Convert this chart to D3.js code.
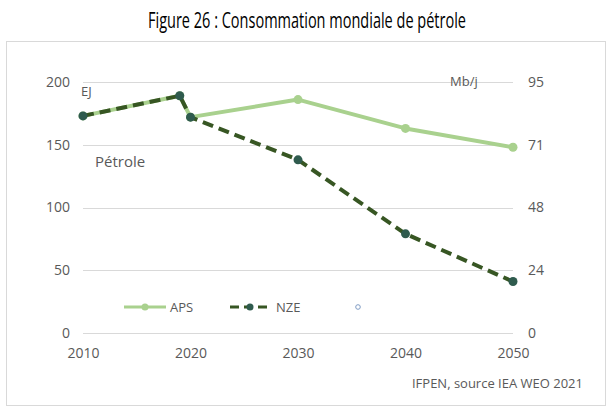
<!DOCTYPE html>
<html><head><meta charset="utf-8">
<script src="https://cdn.jsdelivr.net/npm/d3@7"></script>
<style>body{margin:0;background:#fff}svg{display:block}text{font-family:"Open Sans",sans-serif}</style>
</head><body><svg id="c" width="615" height="412"></svg>
<script>
const years = [2010, 2019, 2020, 2030, 2040, 2050];
const aps = [173, 189, 172, 186, 163, 148];
const nze = [173, 189, 172, 138, 79, 41];
const xTicks = [2010, 2020, 2030, 2040, 2050];
const leftTicks = [0, 50, 100, 150, 200];
const rightTickLabels = ["0", "24", "48", "71", "95"];
const seriesNames = ["APS", "NZE"];

const svg = d3.select("#c");
const x = d3.scaleLinear().domain([2010, 2050]).range([83, 513]);
const y = d3.scaleLinear().domain([0, 200]).range([333, 82]);
const yr = d3.scaleLinear().domain([0, 95]).range([333, 82]);
const grey = "#595959";

svg.append("rect").attr("x", 6.5).attr("y", 41.5).attr("width", 599).attr("height", 364)
  .attr("fill", "none").attr("stroke", "#d9d9d9");

const title = svg.append("text").attr("x", 307).attr("y", 28).attr("text-anchor", "middle")
  .attr("font-size", 21).attr("fill", "#000")
  .style("font-family", "'Liberation Sans Narrow','Open Sans',sans-serif")
  .text("Figure 26 : Consommation mondiale de pétrole");
const tl = title.node().getComputedTextLength();
if (Math.abs(tl - 318) > 6) title.attr("textLength", 318).attr("lengthAdjust", "spacingAndGlyphs");

// gridlines
svg.append("g").selectAll("line").data(leftTicks).join("line")
  .attr("x1", 83).attr("x2", 513)
  .attr("y1", d => Math.round(y(d)) + 0.5).attr("y2", d => Math.round(y(d)) + 0.5)
  .attr("stroke", "#d9d9d9");

// left axis
const la = svg.append("g").attr("transform", "translate(70,0)")
  .call(d3.axisLeft(y).tickValues(leftTicks).tickSize(0).tickPadding(0));
la.select(".domain").remove();
la.selectAll("text").attr("font-size", 14).attr("fill", grey).attr("font-family", "Open Sans");

// right axis
const ra = svg.append("g").attr("transform", "translate(528,0)")
  .call(d3.axisRight(yr).tickValues([0, 23.75, 47.5, 71.25, 95]).tickSize(0).tickPadding(0)
    .tickFormat((d, i) => rightTickLabels[i]));
ra.select(".domain").remove();
ra.selectAll("text").attr("font-size", 14).attr("fill", grey).attr("font-family", "Open Sans");

// bottom axis
const ba = svg.append("g").attr("transform", "translate(0,348)")
  .call(d3.axisBottom(x).tickValues(xTicks).tickSize(0).tickPadding(0).tickFormat(d3.format("d")));
ba.select(".domain").remove();
ba.selectAll("text").attr("font-size", 14).attr("fill", grey).attr("font-family", "Open Sans");

svg.append("text").attr("x", 81).attr("y", 96).attr("font-size", 13).attr("fill", grey).text("EJ");
svg.append("text").attr("x", 450).attr("y", 86).attr("font-size", 13).attr("fill", grey).text("Mb/j");
svg.append("text").attr("x", 95).attr("y", 167).attr("font-size", 15).attr("fill", grey).text("Pétrole");
svg.append("text").attr("x", 583).attr("y", 388).attr("text-anchor", "end").attr("font-size", 13).attr("fill", grey).text("IFPEN, source IEA WEO 2021");

const line = d3.line().x((d, i) => x(years[i])).y(d => y(d));
const apsCol = "#a9d18e", nzeCol = "#375623", nzeMk = "#2f5b4e";

svg.append("path").datum(aps).attr("d", line).attr("fill", "none")
  .attr("stroke", apsCol).attr("stroke-width", 4).attr("stroke-linejoin", "round");
svg.append("g").selectAll("circle").data(aps).join("circle")
  .attr("cx", (d, i) => x(years[i])).attr("cy", d => y(d)).attr("r", 4.5).attr("fill", apsCol);

svg.append("path").datum(nze).attr("d", line).attr("fill", "none")
  .attr("stroke", nzeCol).attr("stroke-width", 4).attr("stroke-dasharray", "11,6");
svg.append("g").selectAll("circle").data(nze).join("circle")
  .attr("cx", (d, i) => x(years[i])).attr("cy", d => y(d)).attr("r", 4.5).attr("fill", nzeMk);

// legend
const ly = 307;
svg.append("line").attr("x1", 124).attr("x2", 166).attr("y1", ly).attr("y2", ly)
  .attr("stroke", apsCol).attr("stroke-width", 3);
svg.append("circle").attr("cx", 145).attr("cy", ly).attr("r", 3.5).attr("fill", apsCol);
svg.append("text").attr("x", 170).attr("y", ly + 5).attr("font-size", 13).attr("fill", grey).text(seriesNames[0]);
svg.append("line").attr("x1", 230).attr("x2", 271).attr("y1", ly).attr("y2", ly)
  .attr("stroke", nzeCol).attr("stroke-width", 3).attr("stroke-dasharray", "9,5");
svg.append("circle").attr("cx", 250).attr("cy", ly).attr("r", 3.5).attr("fill", nzeMk);
svg.append("text").attr("x", 276).attr("y", ly + 5).attr("font-size", 13).attr("fill", grey).text(seriesNames[1]);
svg.append("circle").attr("cx", 358).attr("cy", ly).attr("r", 2.3).attr("fill", "#fff")
  .attr("stroke", "#7f9cc4").attr("stroke-width", 1);
</script></body></html>
